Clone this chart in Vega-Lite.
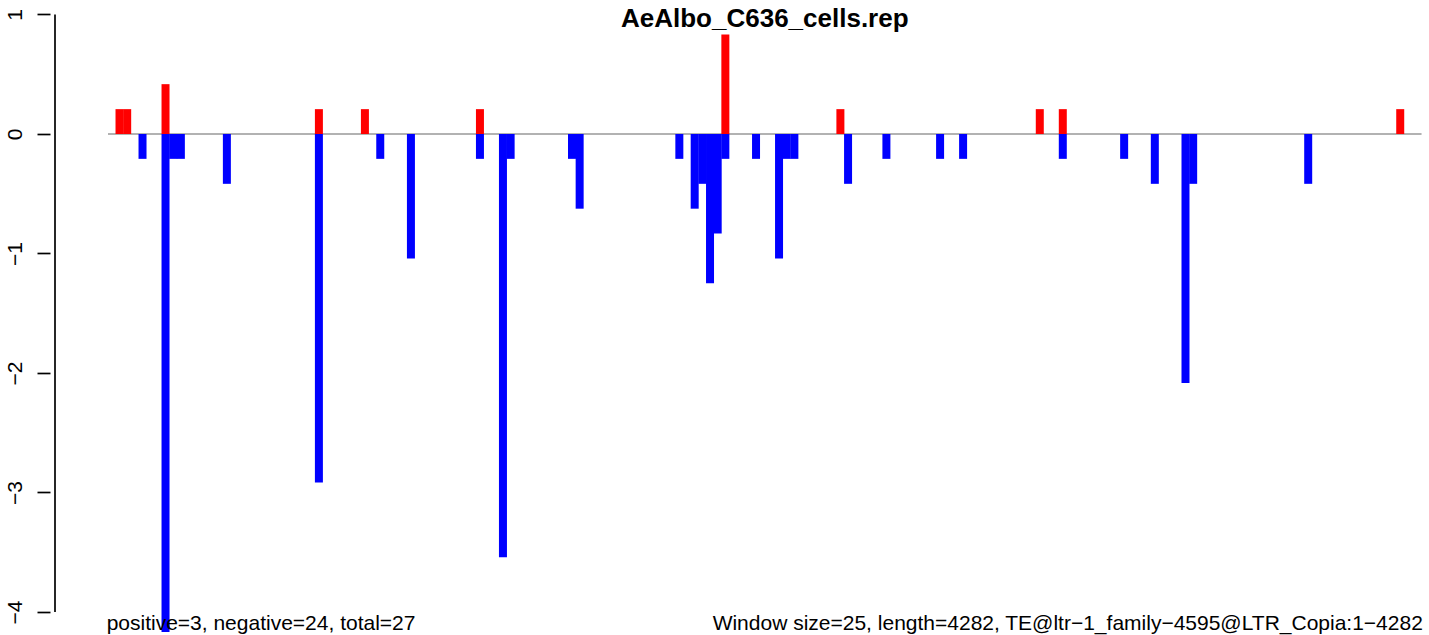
{
  "$schema": "https://vega.github.io/schema/vega-lite/v6.json",
  "autosize": "none",
  "width": 1379,
  "height": 635,
  "padding": {"left": 50, "top": 0, "right": 0, "bottom": 0},
  "background": "white",
  "config": {"view": {"stroke": null}, "font": "Liberation Sans"},
  "datasets": {
    "bars": [
      {"pos": 37.5, "value": 0.208, "dir": "pos"},
      {"pos": 62.5, "value": 0.208, "dir": "pos"},
      {"pos": 187.5, "value": 0.417, "dir": "pos"},
      {"pos": 687.5, "value": 0.208, "dir": "pos"},
      {"pos": 837.5, "value": 0.208, "dir": "pos"},
      {"pos": 1212.5, "value": 0.208, "dir": "pos"},
      {"pos": 2012.5, "value": 0.833, "dir": "pos"},
      {"pos": 2387.5, "value": 0.208, "dir": "pos"},
      {"pos": 3037.5, "value": 0.208, "dir": "pos"},
      {"pos": 3112.5, "value": 0.208, "dir": "pos"},
      {"pos": 4212.5, "value": 0.208, "dir": "pos"},
      {"pos": 112.5, "value": -0.208, "dir": "neg"},
      {"pos": 187.5, "value": -4.167, "dir": "neg"},
      {"pos": 212.5, "value": -0.208, "dir": "neg"},
      {"pos": 237.5, "value": -0.208, "dir": "neg"},
      {"pos": 387.5, "value": -0.417, "dir": "neg"},
      {"pos": 687.5, "value": -2.917, "dir": "neg"},
      {"pos": 887.5, "value": -0.208, "dir": "neg"},
      {"pos": 987.5, "value": -1.042, "dir": "neg"},
      {"pos": 1212.5, "value": -0.208, "dir": "neg"},
      {"pos": 1287.5, "value": -3.542, "dir": "neg"},
      {"pos": 1312.5, "value": -0.208, "dir": "neg"},
      {"pos": 1512.5, "value": -0.208, "dir": "neg"},
      {"pos": 1537.5, "value": -0.625, "dir": "neg"},
      {"pos": 1862.5, "value": -0.208, "dir": "neg"},
      {"pos": 1912.5, "value": -0.625, "dir": "neg"},
      {"pos": 1937.5, "value": -0.417, "dir": "neg"},
      {"pos": 1962.5, "value": -1.25, "dir": "neg"},
      {"pos": 1987.5, "value": -0.833, "dir": "neg"},
      {"pos": 2012.5, "value": -0.208, "dir": "neg"},
      {"pos": 2112.5, "value": -0.208, "dir": "neg"},
      {"pos": 2187.5, "value": -1.042, "dir": "neg"},
      {"pos": 2212.5, "value": -0.208, "dir": "neg"},
      {"pos": 2237.5, "value": -0.208, "dir": "neg"},
      {"pos": 2412.5, "value": -0.417, "dir": "neg"},
      {"pos": 2537.5, "value": -0.208, "dir": "neg"},
      {"pos": 2712.5, "value": -0.208, "dir": "neg"},
      {"pos": 2787.5, "value": -0.208, "dir": "neg"},
      {"pos": 3112.5, "value": -0.208, "dir": "neg"},
      {"pos": 3312.5, "value": -0.208, "dir": "neg"},
      {"pos": 3412.5, "value": -0.417, "dir": "neg"},
      {"pos": 3512.5, "value": -2.083, "dir": "neg"},
      {"pos": 3537.5, "value": -0.417, "dir": "neg"},
      {"pos": 3912.5, "value": -0.417, "dir": "neg"}
    ],
    "baseline": [{"start": 0, "end": 4282, "level": 0}],
    "axisline": [{"x": -172.8, "lo": -4, "hi": 1}],
    "notes": [
      {"x": 2141, "y": 0.895, "label": "AeAlbo_C636_cells.rep", "kind": "title"},
      {"x": -4.5, "y": -4.151, "label": "positive=3, negative=24, total=27", "kind": "left"},
      {"x": 1971, "y": -4.151, "label": "Window size=25, length=4282, TE@ltr−1_family−4595@LTR_Copia:1−4282", "kind": "right"}
    ]
  },
  "encoding": {
    "x": {"type": "quantitative", "scale": {"domain": [-172.8, 4290], "nice": false, "zero": false}, "axis": null},
    "y": {"type": "quantitative", "scale": {"domain": [-4.1925, 1.1213], "nice": false, "zero": false},
      "axis": {"values": [-4, -3, -2, -1, 0, 1], "domain": false, "grid": false, "ticks": true, "tickSize": 13, "tickWidth": 1.7, "tickColor": "black",
        "labelAngle": 270, "labelAlign": "center", "labelBaseline": "alphabetic", "labelPadding": 16, "labelFontSize": 21, "labelFont": "Liberation Sans",
        "labelColor": "black", "title": null, "format": "d", "labelFlush": false, "labelOverlap": false}}
  },
  "layer": [
    {
      "data": {"name": "baseline"},
      "mark": {"type": "rule", "color": "#999999", "strokeWidth": 1.5},
      "encoding": {
        "x": {"field": "start", "type": "quantitative"},
        "x2": {"field": "end"},
        "y": {"field": "level", "type": "quantitative"}
      }
    },
    {
      "data": {"name": "bars"},
      "mark": {"type": "bar", "size": 8, "orient": "vertical"},
      "encoding": {
        "x": {"field": "pos", "type": "quantitative"},
        "y": {"field": "value", "type": "quantitative"},
        "y2": {"datum": 0},
        "color": {"field": "dir", "type": "nominal", "scale": {"domain": ["pos", "neg"], "range": ["#FF0000", "#0000FF"]}, "legend": null}
      }
    },
    {
      "data": {"name": "axisline"},
      "mark": {"type": "rule", "color": "black", "strokeWidth": 1.7},
      "encoding": {
        "x": {"field": "x", "type": "quantitative"},
        "y": {"field": "lo", "type": "quantitative"},
        "y2": {"field": "hi"}
      }
    },
    {
      "data": {"name": "notes"},
      "transform": [{"filter": "datum.kind == 'title'"}],
      "mark": {"type": "text", "align": "center", "baseline": "alphabetic", "font": "Liberation Sans", "fontWeight": "bold", "fontSize": 26, "color": "black"},
      "encoding": {
        "x": {"field": "x", "type": "quantitative"},
        "y": {"field": "y", "type": "quantitative"},
        "text": {"field": "label"}
      }
    },
    {
      "data": {"name": "notes"},
      "transform": [{"filter": "datum.kind != 'title'"}],
      "mark": {"type": "text", "align": "left", "baseline": "alphabetic", "font": "Liberation Sans", "fontSize": 21, "color": "black"},
      "encoding": {
        "x": {"field": "x", "type": "quantitative"},
        "y": {"field": "y", "type": "quantitative"},
        "text": {"field": "label"}
      }
    }
  ]
}
